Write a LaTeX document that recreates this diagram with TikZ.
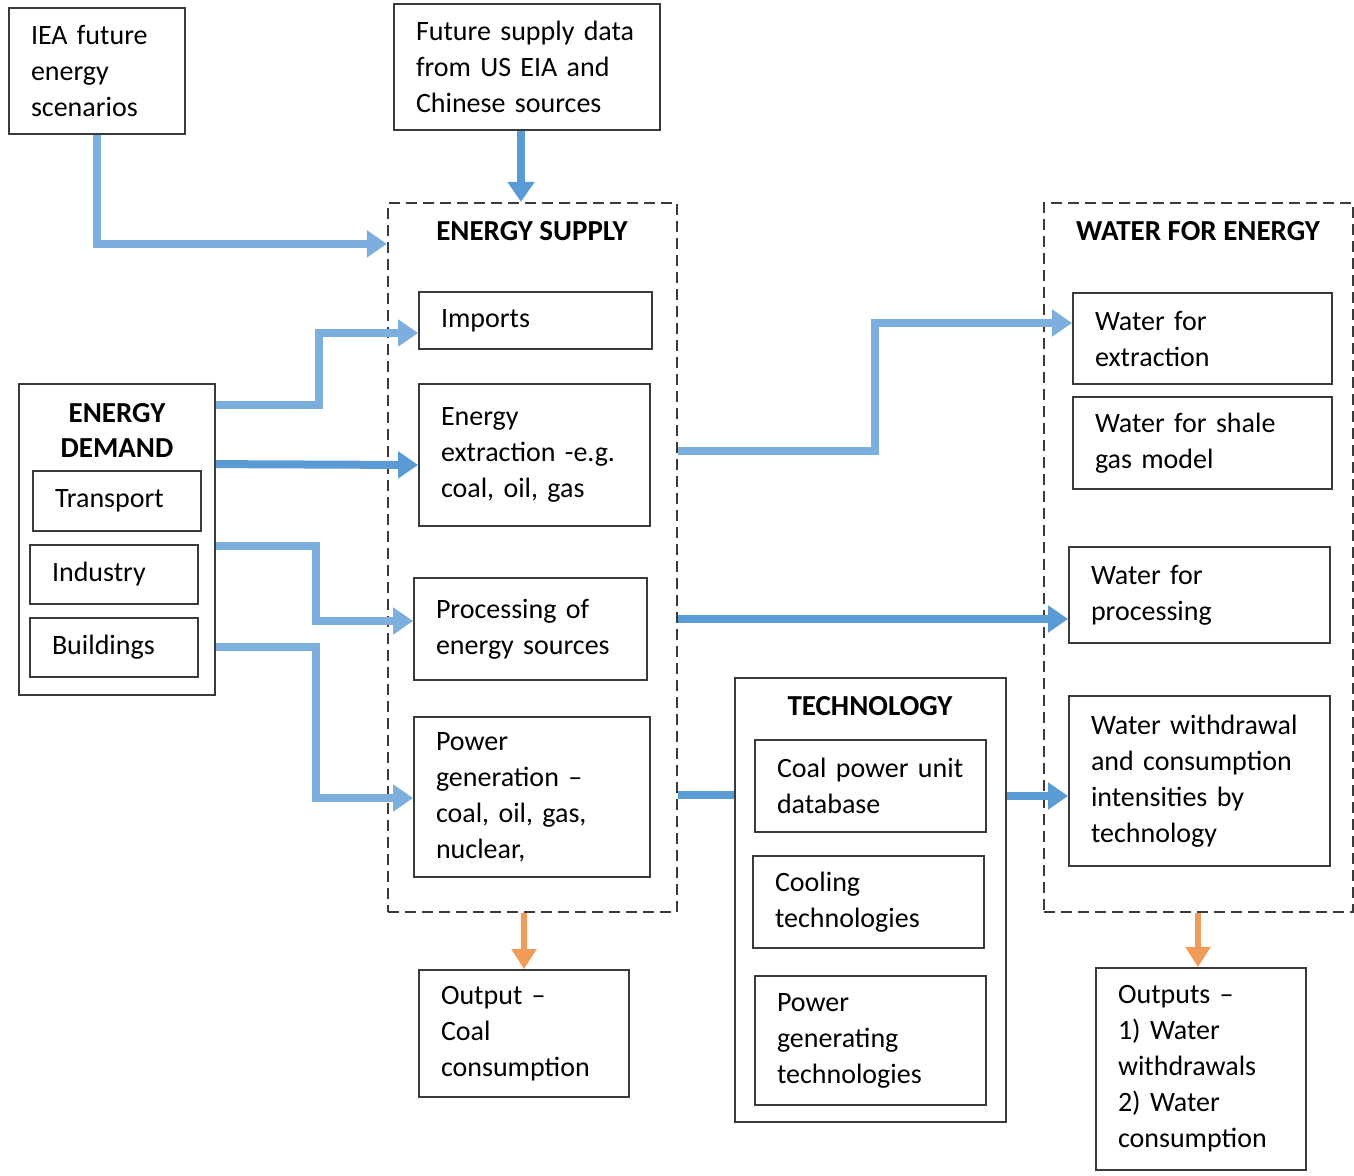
\documentclass[tikz,border=0pt]{standalone}
\usepackage{fontspec}
\setmainfont{Carlito}
\usetikzlibrary{arrows.meta,calc}
\definecolor{lblue}{HTML}{7DAFDE}
\definecolor{dblue}{HTML}{5B9BD5}
\definecolor{oarrow}{HTML}{F19B59}
\definecolor{boxgray}{HTML}{3A3A3A}
\tikzset{
  bx/.style={draw=boxgray, line width=1.8pt, fill=white, align=left,
    inner xsep=22pt, inner ysep=0pt, font=\fontsize{28}{36}\selectfont},
  frame/.style={draw=boxgray, line width=1.8pt, inner sep=0pt},
  dframe/.style={draw=boxgray, line width=2.2pt, inner sep=0pt, dash pattern=on 11pt off 6pt},
  ttl/.style={font=\fontsize{29}{35}\selectfont\bfseries, align=center, inner sep=0pt},
  lbar/.style={draw=lblue, line width=8pt, -{Triangle[length=20pt,width=26pt]}},
  dbar/.style={draw=dblue, line width=8pt, -{Triangle[length=20pt,width=26pt]}},
  dline/.style={draw=dblue, line width=8pt},
  obar/.style={draw=oarrow, line width=6pt, -{Triangle[length=20pt,width=24pt]}}
}
\begin{document}
\begin{tikzpicture}[x=1pt,y=-1pt]
\useasboundingbox (0,0) rectangle (1354,1175);
\fill[white] (0,0) rectangle (1354,1175);

% dashed groups
\node[dframe, minimum width=289pt, minimum height=709pt] (supply) at (532.5,557.5) {};
\node[ttl] (supT) at (532,231) {ENERGY SUPPLY};
\node[dframe, minimum width=309pt, minimum height=709pt] (wfe) at (1198.5,557.5) {};
\node[ttl] (wfeT) at (1198,231) {WATER FOR ENERGY};

% top sources
\node[bx, minimum width=176pt, text width=132pt, minimum height=126pt] (iea) at (97,71) {IEA future\\energy\\scenarios};
\node[bx, minimum width=266pt, text width=222pt, minimum height=126pt] (fut) at (527,67) {Future supply data\\from US EIA and\\Chinese sources};

% energy supply contents
\node[bx, minimum width=233pt, text width=189pt, minimum height=57pt] (imp) at (535.5,320.5) {Imports};
\node[bx, minimum width=231pt, text width=187pt, minimum height=142pt] (ext) at (534.5,455) {Energy\\extraction -e.g.\\coal, oil, gas};
\node[bx, minimum width=233pt, text width=189pt, minimum height=102pt] (proc) at (530.5,629) {Processing of\\energy sources};
\node[bx, minimum width=236pt, text width=192pt, minimum height=160pt] (pgen) at (532,797) {Power\\generation \textendash\\coal, oil, gas,\\nuclear,};

% energy demand
\node[frame, minimum width=196pt, minimum height=311pt] (dem) at (117,539.5) {};
\node[ttl] (demT) at (117,430) {ENERGY\\DEMAND};
\node[bx, minimum width=168pt, text width=124pt, minimum height=60pt] (trans) at (117,501) {Transport};
\node[bx, minimum width=168pt, text width=124pt, minimum height=59pt] (ind) at (114,574.5) {Industry};
\node[bx, minimum width=168pt, text width=124pt, minimum height=59pt] (bld) at (114,647.5) {Buildings};

% water for energy contents
\node[bx, minimum width=259pt, text width=215pt, minimum height=91pt] (wext) at (1202.5,338.5) {Water for\\extraction};
\node[bx, minimum width=259pt, text width=215pt, minimum height=92pt] (wsh) at (1202.5,443) {Water for shale\\gas model};
\node[bx, minimum width=261pt, text width=217pt, minimum height=96pt] (wproc) at (1199.5,595) {Water for\\processing};
\node[bx, minimum width=261pt, text width=217pt, minimum height=170pt] (wwd) at (1199.5,781) {Water withdrawal\\and consumption\\intensities by\\technology};

% technology
\node[frame, minimum width=271pt, minimum height=444pt] (tech) at (870.5,900) {};
\node[ttl] (techT) at (870,706) {TECHNOLOGY};
\node[bx, minimum width=231pt, text width=187pt, minimum height=92pt] (coal) at (870.5,786) {Coal power unit\\database};
\node[bx, minimum width=231pt, text width=187pt, minimum height=92pt] (cool) at (868.5,902) {Cooling\\technologies};
\node[bx, minimum width=231pt, text width=187pt, minimum height=129pt] (pgt) at (870.5,1040.5) {Power\\generating\\technologies};

% outputs
\node[bx, minimum width=210pt, text width=166pt, minimum height=127pt] (outc) at (524,1033.5) {Output \textendash\\Coal\\consumption};
\node[bx, minimum width=210pt, text width=166pt, minimum height=202pt] (outw) at (1201,1069) {Outputs \textendash\\1) Water\\withdrawals\\2) Water\\consumption};

% connectors
\draw[lbar] (iea.south) |- ($(supply.north west)+(0,42)$);
\draw[dbar] ($(fut.south)+(-6,0)$) -- ($(supply.north -| fut.south)+(-6,0)$);
\draw[lbar] ($(dem.north east)+(0,22)$) -- ++(103,0) |- ($(imp.west)+(0,12.5)$);
\draw[dbar] ($(dem.north east)+(0,81)$) -- ($(ext.west)+(0,10)$);
\draw[lbar] ($(dem.north east)+(0,163)$) -- ++(100,0) |- ($(proc.west)+(0,-8)$);
\draw[lbar] ($(dem.north east)+(0,264)$) -- ++(100,0) |- ($(pgen.west)+(0,1)$);
\draw[lbar] ($(ext.east -| supply.east)+(0,-4)$) -- ++(197,0) |- ($(wext.west)+(0,-15.5)$);
\draw[dbar] ($(proc.east -| supply.east)+(0,-10)$) -- ($(wproc.west)+(0,24)$);
\draw[dline] ($(pgen.east -| supply.east)+(0,-2)$) -- ($(tech.west)+(0,-105)$);
\draw[dbar] ($(tech.east)+(0,-104)$) -- ($(wwd.west)+(0,15)$);
\draw[obar] (outc.north |- supply.south) -- (outc.north);
\draw[obar] ($(outw.north |- wfe.south)+(-3,0)$) -- ($(outw.north)+(-3,0)$);
\end{tikzpicture}
\end{document}
